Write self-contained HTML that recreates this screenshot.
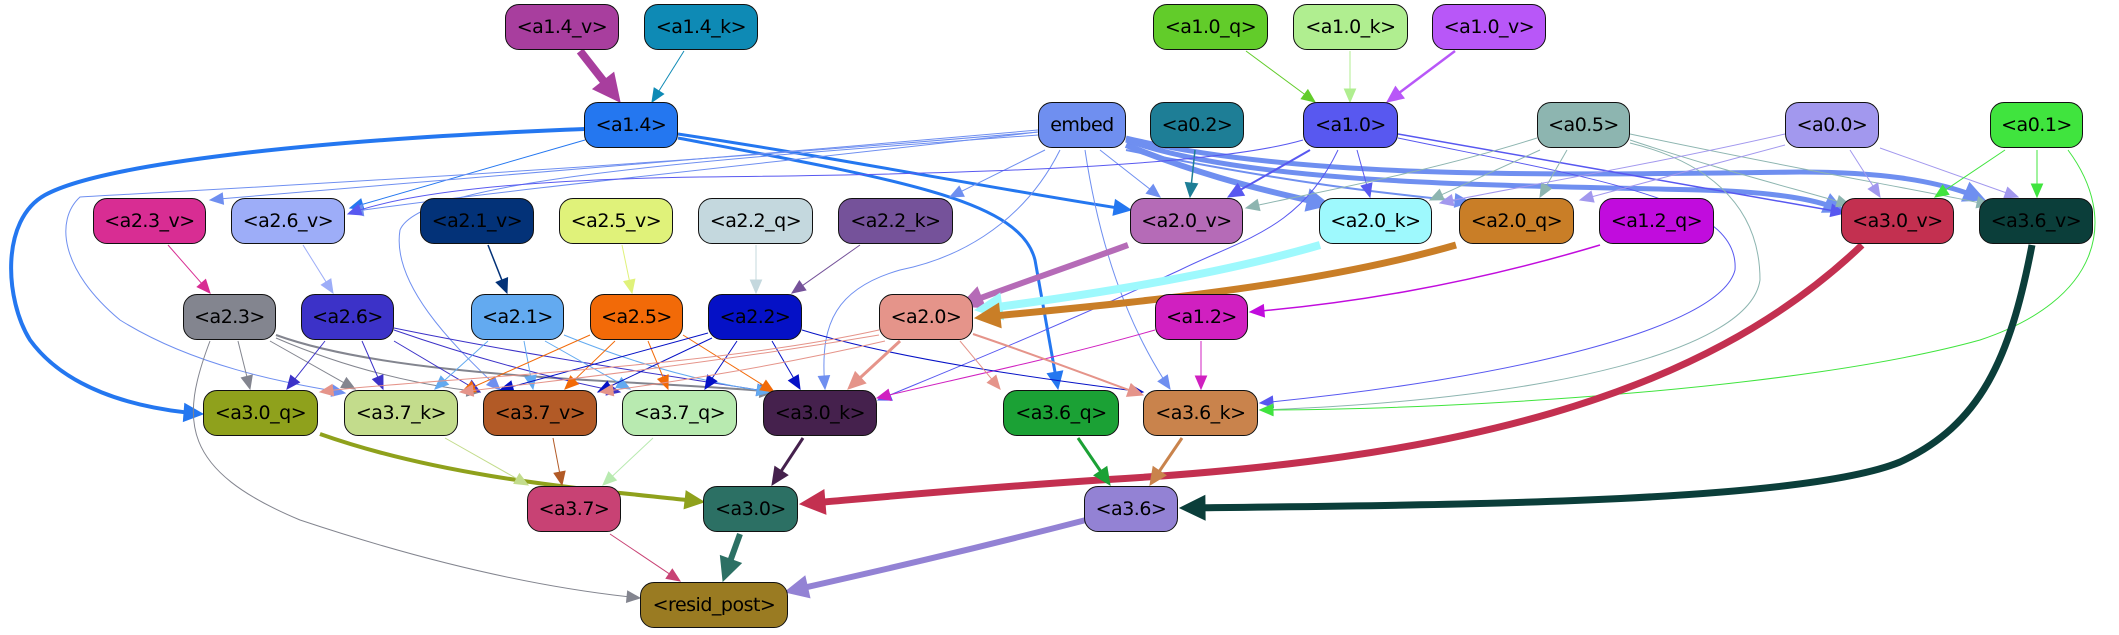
<!DOCTYPE html>
<html><head><meta charset="utf-8"><style>
html,body{margin:0;padding:0;background:#fff;}
#w{position:relative;width:2119px;height:635px;overflow:hidden;}
svg{position:absolute;left:0;top:0;}
.n{position:absolute;height:46px;border:1.5px solid #111;border-radius:14px;box-sizing:border-box;display:flex;align-items:center;justify-content:center;font-family:"DejaVu Sans","Liberation Sans",sans-serif;font-size:19px;color:#000;white-space:nowrap;letter-spacing:-0.5px;}
</style></head><body><div id="w">
<svg id="s" width="2119" height="635" viewBox="0 0 2119 635"></svg>
</div>
<div id="static">
<div class="n" style="left:505px;top:4px;width:114px;background:#a83e9e">&lt;a1.4_v&gt;</div>
<div class="n" style="left:644px;top:4px;width:114px;background:#0e8ab5">&lt;a1.4_k&gt;</div>
<div class="n" style="left:1153px;top:4px;width:115px;background:#62cc2a">&lt;a1.0_q&gt;</div>
<div class="n" style="left:1293px;top:4px;width:115px;background:#b0ee90">&lt;a1.0_k&gt;</div>
<div class="n" style="left:1432px;top:4px;width:114px;background:#b857f8">&lt;a1.0_v&gt;</div>

<div class="n" style="left:584px;top:102px;width:94px;background:#2477f0">&lt;a1.4&gt;</div>
<div class="n" style="left:1038px;top:102px;width:88px;background:#6f8ff0">embed</div>
<div class="n" style="left:1150px;top:102px;width:94px;background:#1e7e96">&lt;a0.2&gt;</div>
<div class="n" style="left:1303px;top:102px;width:95px;background:#5858f0">&lt;a1.0&gt;</div>
<div class="n" style="left:1537px;top:102px;width:93px;background:#8db5b0">&lt;a0.5&gt;</div>
<div class="n" style="left:1785px;top:102px;width:94px;background:#a298ee">&lt;a0.0&gt;</div>
<div class="n" style="left:1990px;top:102px;width:93px;background:#40e43e">&lt;a0.1&gt;</div>

<div class="n" style="left:93px;top:198px;width:113px;background:#d82d93">&lt;a2.3_v&gt;</div>
<div class="n" style="left:231px;top:198px;width:114px;background:#9dadf8">&lt;a2.6_v&gt;</div>
<div class="n" style="left:420px;top:198px;width:114px;background:#033278">&lt;a2.1_v&gt;</div>
<div class="n" style="left:559px;top:198px;width:114px;background:#e0f27a">&lt;a2.5_v&gt;</div>
<div class="n" style="left:698px;top:198px;width:115px;background:#c4d8de">&lt;a2.2_q&gt;</div>
<div class="n" style="left:838px;top:198px;width:115px;background:#75529a">&lt;a2.2_k&gt;</div>
<div class="n" style="left:1130px;top:198px;width:113px;background:#b56bb7">&lt;a2.0_v&gt;</div>
<div class="n" style="left:1319px;top:198px;width:113px;background:#9ef9fd">&lt;a2.0_k&gt;</div>
<div class="n" style="left:1459px;top:198px;width:115px;background:#c97e27">&lt;a2.0_q&gt;</div>
<div class="n" style="left:1599px;top:198px;width:115px;background:#c10cdd">&lt;a1.2_q&gt;</div>
<div class="n" style="left:1841px;top:198px;width:113px;background:#c33050">&lt;a3.0_v&gt;</div>
<div class="n" style="left:1979px;top:198px;width:114px;background:#0b3e3a">&lt;a3.6_v&gt;</div>

<div class="n" style="left:183px;top:294px;width:93px;background:#83858f">&lt;a2.3&gt;</div>
<div class="n" style="left:301px;top:294px;width:93px;background:#3c32c8">&lt;a2.6&gt;</div>
<div class="n" style="left:471px;top:294px;width:93px;background:#63aaf0">&lt;a2.1&gt;</div>
<div class="n" style="left:590px;top:294px;width:93px;background:#f26a08">&lt;a2.5&gt;</div>
<div class="n" style="left:708px;top:294px;width:94px;background:#0511c6">&lt;a2.2&gt;</div>
<div class="n" style="left:879px;top:294px;width:94px;background:#e5948a">&lt;a2.0&gt;</div>
<div class="n" style="left:1155px;top:294px;width:93px;background:#d020c0">&lt;a1.2&gt;</div>

<div class="n" style="left:203px;top:390px;width:115px;background:#8fa11c">&lt;a3.0_q&gt;</div>
<div class="n" style="left:344px;top:390px;width:114px;background:#c3dc8c">&lt;a3.7_k&gt;</div>
<div class="n" style="left:483px;top:390px;width:114px;background:#b25a26">&lt;a3.7_v&gt;</div>
<div class="n" style="left:622px;top:390px;width:115px;background:#b8eab0">&lt;a3.7_q&gt;</div>
<div class="n" style="left:763px;top:390px;width:114px;background:#45214d">&lt;a3.0_k&gt;</div>
<div class="n" style="left:1003px;top:390px;width:116px;background:#1ba135">&lt;a3.6_q&gt;</div>
<div class="n" style="left:1143px;top:390px;width:115px;background:#c9834c">&lt;a3.6_k&gt;</div>

<div class="n" style="left:527px;top:486px;width:94px;background:#c84274">&lt;a3.7&gt;</div>
<div class="n" style="left:703px;top:486px;width:95px;background:#2c7064">&lt;a3.0&gt;</div>
<div class="n" style="left:1084px;top:486px;width:94px;background:#9382d4">&lt;a3.6&gt;</div>

<div class="n" style="left:640px;top:582px;width:148px;background:#9a7b22">&lt;resid_post&gt;</div>
</div>
<script>
var E=[
["M 580 51 L 620 102","#a83e9e",8],
["M 684 51 L 652 102","#0e8ab5",1],
["M 585 129 C 300 140, 100 165, 45 195 C 0 220, 5 300, 30 340 C 70 395, 150 410, 203 414","#2477f0",4],
["M 678 134 C 850 160, 1000 190, 1131 210","#2477f0",3],
["M 678 138 C 900 180, 1020 200, 1035 260 L 1058 389","#2477f0",3],
["M 585 140 L 350 208","#2477f0",1],
["M 1038 130 C 700 160, 300 190, 210 200","#6f8ff0",1],
["M 1038 132 C 800 160, 500 190, 350 212","#6f8ff0",1],
["M 1038 132 C 600 170, 200 190, 80 197 C 55 220, 60 270, 120 320 C 200 370, 300 385, 345 393","#6f8ff0",1],
["M 1038 135 C 700 160, 420 180, 400 230 C 390 290, 470 360, 500 390","#6f8ff0",1],
["M 1045 150 L 950 197","#6f8ff0",1],
["M 1060 150 C 1020 230, 950 260, 900 270 C 830 290, 820 330, 825 389","#6f8ff0",1],
["M 1100 150 L 1160 197","#6f8ff0",1],
["M 1126 145 C 1200 175, 1260 190, 1330 205","#6f8ff0",6],
["M 1126 140 C 1250 185, 1500 185, 1700 190 C 1780 192, 1820 200, 1845 212","#6f8ff0",5],
["M 1126 138 C 1300 180, 1550 175, 1800 172 C 1900 172, 1950 185, 1985 200","#6f8ff0",5],
["M 1126 150 C 1300 185, 1400 195, 1470 202","#6f8ff0",2],
["M 1085 150 C 1100 250, 1130 330, 1170 389","#6f8ff0",1],
["M 1195 150 L 1190 197","#1e7e96",1.5],
["M 1310 150 L 1228 197","#5858f0",2],
["M 1357 150 L 1370 197","#5858f0",1],
["M 1303 140 C 1200 170, 900 175, 700 177 C 500 180, 400 195, 348 214","#5858f0",1],
["M 1338 150 C 1300 230, 1240 240, 1180 270 C 1050 330, 950 370, 878 400","#5858f0",1],
["M 1398 134 C 1600 170, 1750 195, 1845 213","#5858f0",1.5],
["M 1398 138 C 1600 180, 1740 200, 1735 270 C 1720 330, 1500 380, 1260 403","#5858f0",1],
["M 1246 51 L 1315 102","#62cc2a",1],
["M 1350 51 L 1350 102","#b0ee90",1],
["M 1455 51 L 1387 102","#b857f8",2.5],
["M 1537 138 C 1420 175, 1300 195, 1246 208","#8db5b0",1],
["M 1540 150 L 1430 200","#8db5b0",1],
["M 1567 150 L 1540 197","#8db5b0",1],
["M 1630 140 C 1720 170, 1800 190, 1850 205","#8db5b0",1],
["M 1630 134 C 1800 170, 1920 190, 1990 205","#8db5b0",1],
["M 1630 143 C 1700 160, 1760 200, 1760 280 C 1750 350, 1550 400, 1260 410","#8db5b0",1],
["M 1785 145 L 1580 200","#a298ee",1],
["M 1785 134 C 1650 165, 1500 190, 1440 203","#a298ee",1],
["M 1850 150 L 1880 197","#a298ee",1],
["M 1880 148 L 2018 197","#a298ee",1],
["M 2005 150 L 1935 197","#40e43e",1],
["M 2037 150 L 2037 197","#40e43e",1],
["M 2068 150 C 2120 220, 2100 300, 1980 340 C 1800 390, 1450 410, 1260 410","#40e43e",1],
["M 1128 245 C 1060 270, 1000 290, 960 306","#b56bb7",6],
["M 1320 245 C 1200 280, 1050 300, 975 310","#9ef9fd",8],
["M 1456 245 C 1300 290, 1100 305, 975 318","#c97e27",7],
["M 1600 245 C 1450 290, 1330 305, 1250 312","#c10cdd",1.5],
["M 1155 330 C 1050 360, 950 380, 877 398","#d020c0",1],
["M 1201 341 L 1201 389","#d020c0",1],
["M 1862 245 C 1700 400, 1450 460, 1100 480 C 950 490, 850 500, 800 504","#c33050",7],
["M 2032 245 C 2010 360, 1980 425, 1900 462 C 1800 503, 1450 505, 1180 508","#0b3e3a",7],
["M 168 245 L 210 293","#d82d93",1],
["M 303 245 L 333 293","#9dadf8",1],
["M 488 245 L 507 293","#033278",1.5],
["M 622 245 L 632 293","#e0f27a",1],
["M 756 245 L 756 293","#c4d8de",1],
["M 860 245 L 792 293","#75529a",1],
["M 238 341 L 250 389","#83858f",1],
["M 270 341 L 355 389","#83858f",1],
["M 276 335 C 400 380, 650 380, 775 392","#83858f",2],
["M 276 338 C 350 370, 420 385, 480 392","#83858f",1],
["M 210 341 C 180 420, 180 470, 300 520 C 450 570, 560 590, 640 598","#83858f",1],
["M 325 341 L 287 389","#3c32c8",1],
["M 362 341 L 383 389","#3c32c8",1],
["M 394 341 L 480 392","#3c32c8",1],
["M 394 330 C 480 360, 560 380, 620 392","#3c32c8",1],
["M 394 328 C 550 360, 700 380, 770 392","#3c32c8",1],
["M 488 341 L 435 389","#63aaf0",1],
["M 524 341 L 533 389","#63aaf0",1],
["M 545 341 L 630 389","#63aaf0",1],
["M 564 335 C 650 370, 720 385, 770 392","#63aaf0",1],
["M 590 335 L 462 392","#f26a08",1],
["M 615 341 L 565 389","#f26a08",1],
["M 648 341 L 668 389","#f26a08",1],
["M 683 335 L 774 392","#f26a08",1],
["M 708 333 L 500 390","#0511c6",1],
["M 712 338 L 598 392","#0511c6",1],
["M 737 341 L 705 389","#0511c6",1],
["M 772 341 L 800 389","#0511c6",1],
["M 802 330 C 900 360, 1050 380, 1143 392","#0511c6",1],
["M 879 330 C 700 370, 400 380, 320 392","#e5948a",1],
["M 879 335 C 700 365, 520 385, 460 392","#e5948a",1],
["M 885 341 C 760 370, 650 385, 600 392","#e5948a",1],
["M 900 341 L 848 389","#e5948a",3],
["M 960 341 L 1000 389","#e5948a",1],
["M 973 334 C 1050 360, 1100 380, 1143 395","#e5948a",2],
["M 320 434 C 450 480, 600 490, 704 502","#8fa11c",4],
["M 445 438 L 528 485","#c3dc8c",1],
["M 553 438 L 562 485","#b25a26",1],
["M 653 438 L 603 485","#b8eab0",1],
["M 803 438 L 772 485","#45214d",3],
["M 1078 438 L 1110 485","#1ba135",3],
["M 1182 438 L 1150 485","#c9834c",3],
["M 610 534 L 680 581","#c84274",1],
["M 740 534 L 723 581","#2c7064",6],
["M 1086 520 C 950 555, 860 575, 785 592","#9382d4",6]
];
var s=document.getElementById('s'),NS="http://www.w3.org/2000/svg";
E.forEach(function(e){
 var p=document.createElementNS(NS,'path');
 p.setAttribute('d',e[0]);p.setAttribute('fill','none');p.setAttribute('stroke',e[1]);p.setAttribute('stroke-width',e[2]);
 s.appendChild(p);
 var L=p.getTotalLength(),t=p.getPointAtLength(L),b=p.getPointAtLength(Math.max(0,L-3));
 var dx=t.x-b.x,dy=t.y-b.y,d=Math.hypot(dx,dy)||1;dx/=d;dy/=d;
 var w=e[2],len=11+w*2,hw=4.5+w*1.1;
 var bx=t.x-dx*len,by=t.y-dy*len;
 p.setAttribute('stroke-dasharray',(L-len+1)+' 10000');
 var g=document.createElementNS(NS,'polygon');
 g.setAttribute('points',t.x+','+t.y+' '+(bx-dy*hw)+','+(by+dx*hw)+' '+(bx+dy*hw)+','+(by-dx*hw));
 g.setAttribute('fill',e[1]);g.setAttribute('stroke',e[1]);g.setAttribute('stroke-width',1);
 s.appendChild(g);
});
var st=document.getElementById('static');document.getElementById('w').appendChild(st);
</script>
</body></html>
